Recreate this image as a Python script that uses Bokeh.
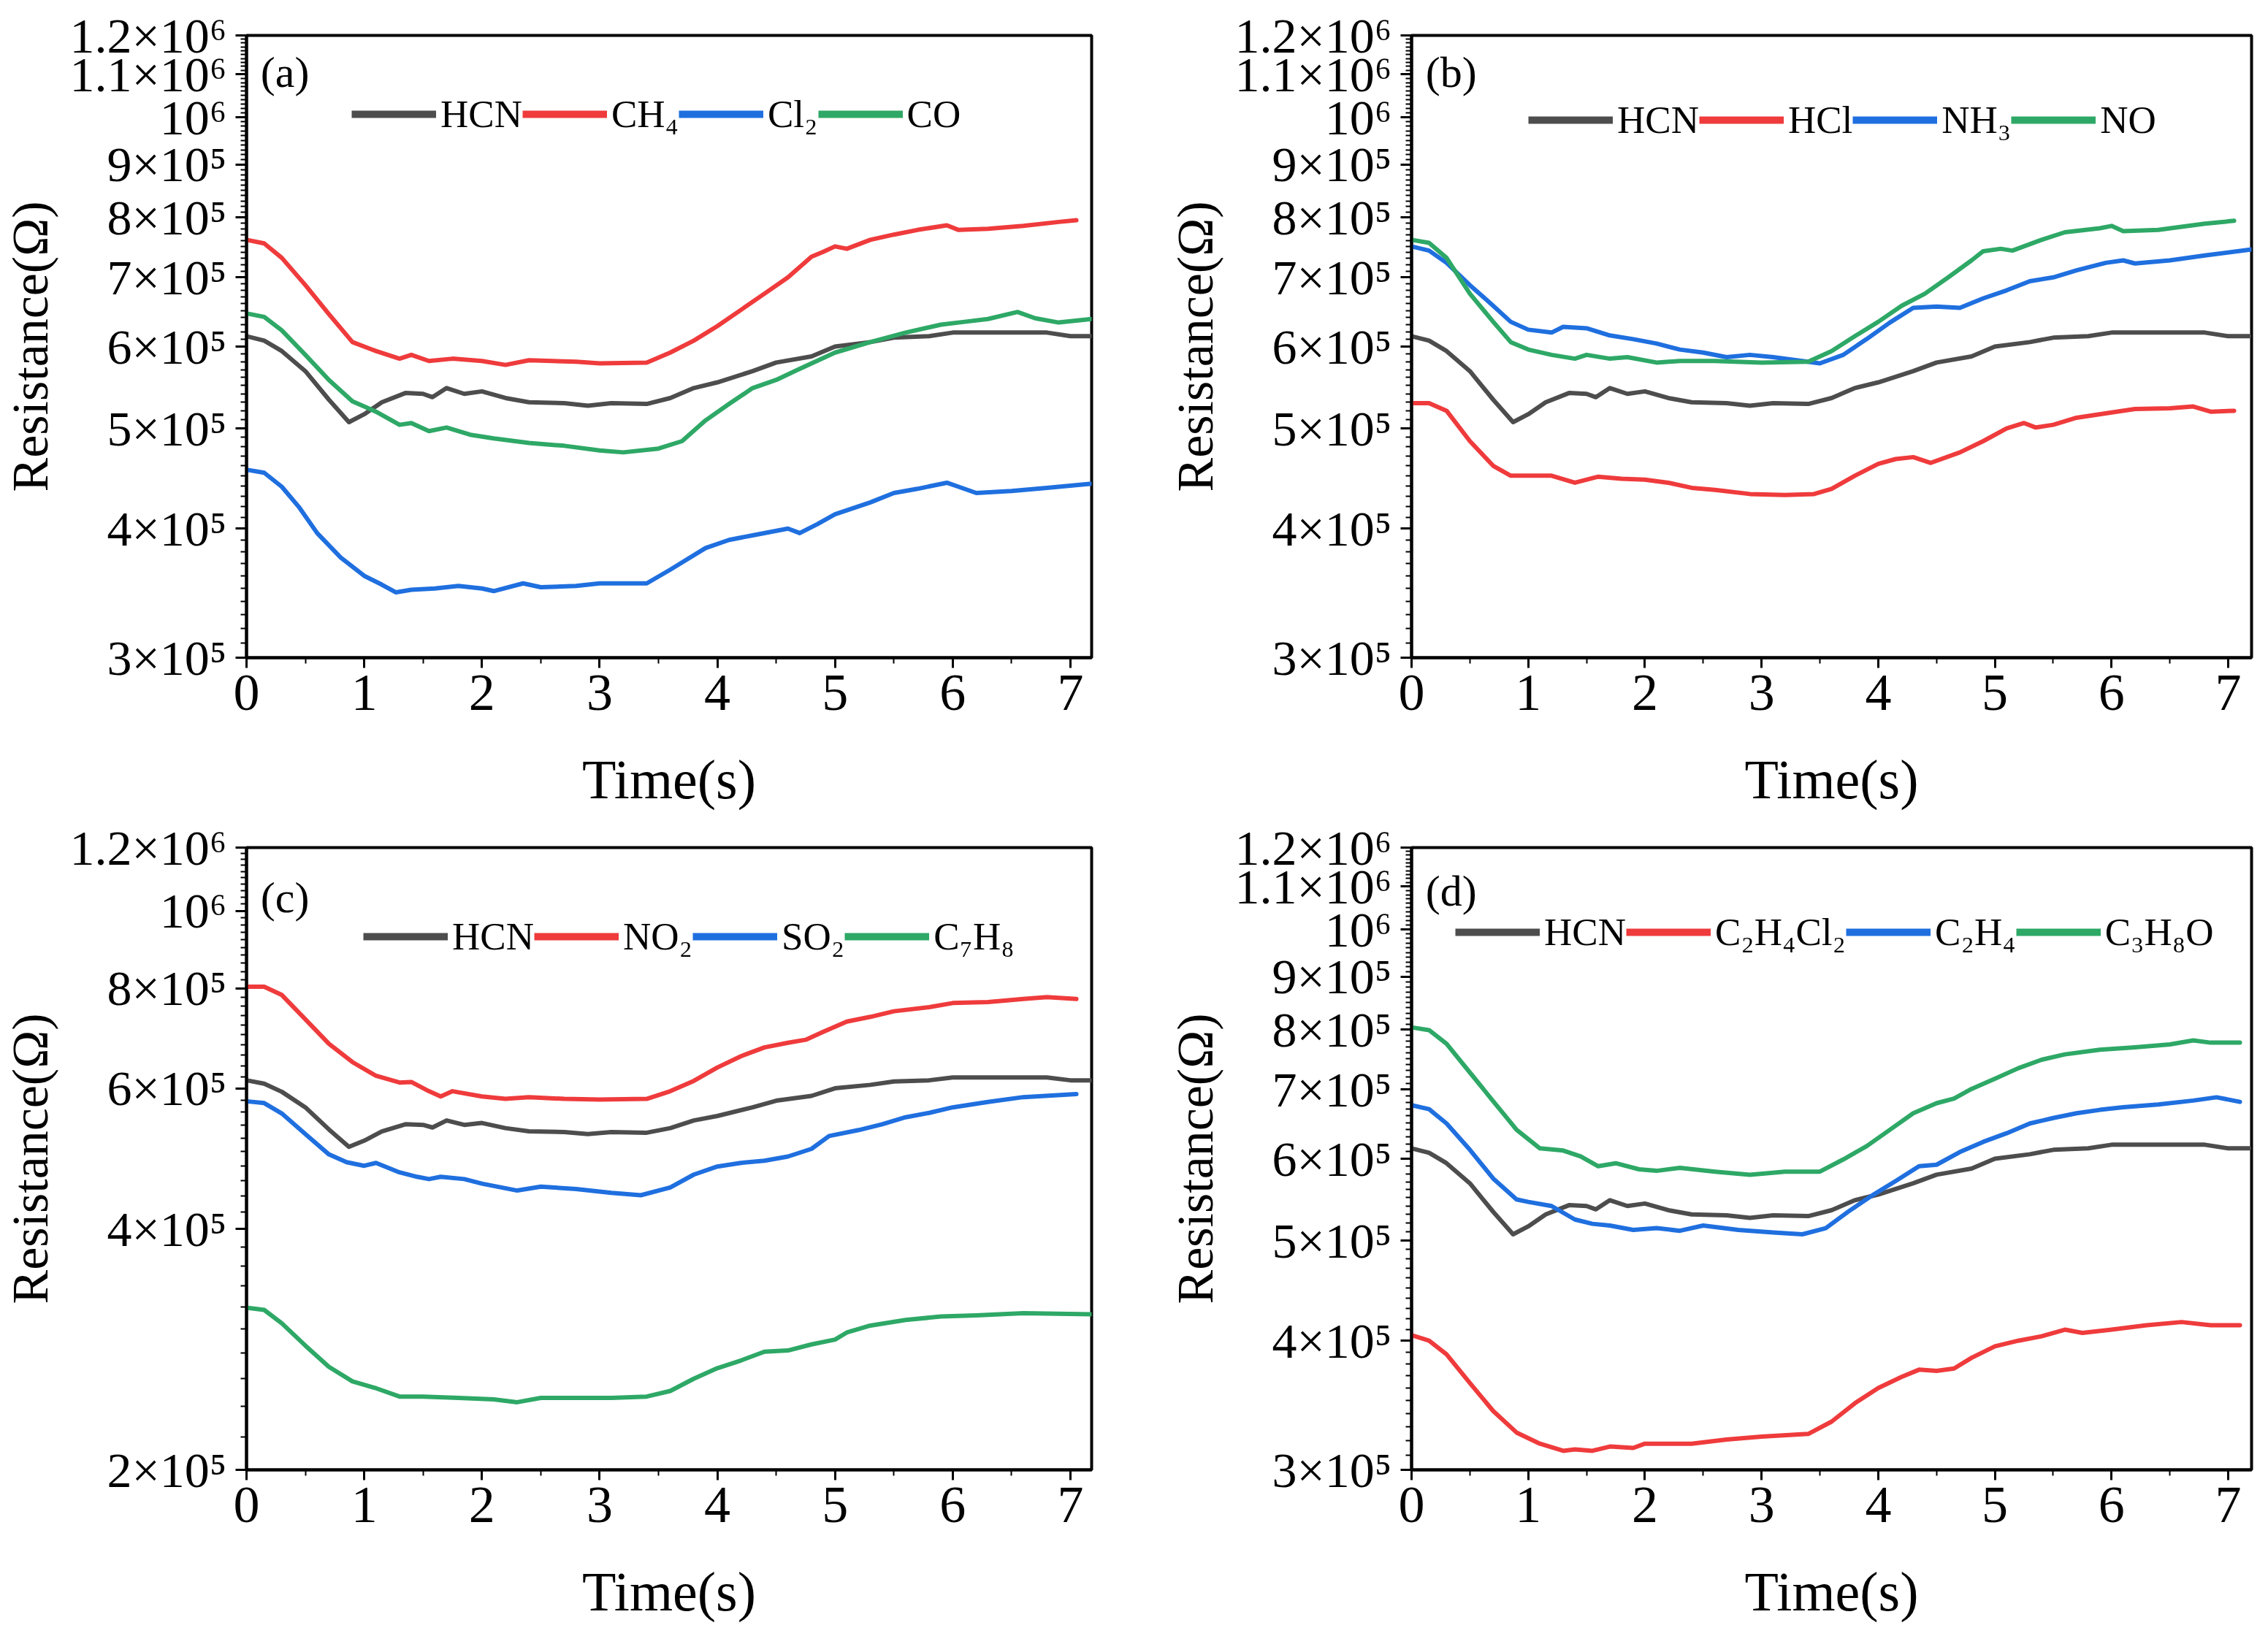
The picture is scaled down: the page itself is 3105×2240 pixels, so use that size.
from bokeh.plotting import figure
from bokeh.models import FixedTicker, Legend, LegendItem, Label, Range1d, ColumnDataSource
from bokeh.layouts import column, row
from bokeh.embed import file_html
from bokeh.resources import INLINE

FONT = "Liberation Serif"
GRAY, RED, BLUE, GREEN = "#4D4D4D", "#EF3B3C", "#1F6FDF", "#2EA866"

# ---------------- data (resistance in units of 1e5 ohm, time in s) ----------------
hcn_t = [0, 0.15, 0.3, 0.5, 0.7, 0.87, 1.0, 1.15, 1.35, 1.5, 1.58, 1.7, 1.85, 2.0, 2.2, 2.4, 2.7, 2.9,
         3.1, 3.4, 3.6, 3.8, 4.0, 4.3, 4.5, 4.8, 5.0, 5.3, 5.5, 5.8, 6.0, 6.5, 6.8, 7.0, 7.18]
hcn_r = [6.14, 6.08, 5.94, 5.68, 5.33, 5.07, 5.16, 5.30, 5.41, 5.40, 5.36, 5.47, 5.40, 5.43, 5.35, 5.30, 5.29, 5.26,
         5.29, 5.28, 5.35, 5.47, 5.54, 5.68, 5.79, 5.87, 6.00, 6.06, 6.12, 6.14, 6.19, 6.19, 6.19, 6.14, 6.14]

# panel (a)
ch4_t = [0, 0.15, 0.3, 0.5, 0.7, 0.9, 1.1, 1.3, 1.4, 1.55, 1.75, 2.0, 2.2, 2.4, 2.8, 3.0, 3.4, 3.6, 3.8, 4.0,
         4.2, 4.4, 4.6, 4.8, 4.9, 5.0, 5.1, 5.3, 5.5, 5.7, 5.95, 6.05, 6.3, 6.6, 6.9, 7.05]
ch4_r = [7.61, 7.55, 7.31, 6.88, 6.45, 6.06, 5.94, 5.84, 5.89, 5.81, 5.84, 5.81, 5.76, 5.82, 5.80, 5.78, 5.79, 5.92, 6.08, 6.28,
         6.51, 6.75, 7.00, 7.33, 7.41, 7.50, 7.46, 7.61, 7.70, 7.78, 7.86, 7.78, 7.80, 7.85, 7.92, 7.95]
cl2_t = [0, 0.15, 0.3, 0.45, 0.6, 0.8, 1.0, 1.15, 1.27, 1.4, 1.6, 1.8, 2.0, 2.1, 2.35, 2.5, 2.8, 3.0, 3.4, 3.6,
         3.9, 4.1, 4.3, 4.6, 4.7, 4.85, 5.0, 5.3, 5.5, 5.7, 5.95, 6.05, 6.2, 6.5, 6.8, 7.18]
cl2_r = [4.56, 4.53, 4.39, 4.19, 3.96, 3.75, 3.60, 3.53, 3.47, 3.49, 3.50, 3.52, 3.50, 3.48, 3.54, 3.51, 3.52, 3.54, 3.54, 3.65,
         3.83, 3.90, 3.94, 4.00, 3.96, 4.04, 4.13, 4.24, 4.33, 4.37, 4.43, 4.39, 4.33, 4.35, 4.38, 4.42]
co_t = [0, 0.15, 0.3, 0.5, 0.7, 0.9, 1.1, 1.3, 1.4, 1.55, 1.7, 1.9, 2.1, 2.4, 2.7, 3.0, 3.2, 3.5, 3.7, 3.9,
        4.1, 4.3, 4.5, 4.7, 5.0, 5.3, 5.6, 5.9, 6.1, 6.3, 6.55, 6.7, 6.9, 7.18]
co_r = [6.46, 6.41, 6.22, 5.89, 5.57, 5.31, 5.19, 5.04, 5.06, 4.97, 5.01, 4.93, 4.89, 4.84, 4.81, 4.76, 4.74, 4.78, 4.86, 5.09,
        5.28, 5.47, 5.57, 5.71, 5.92, 6.06, 6.19, 6.30, 6.34, 6.38, 6.48, 6.39, 6.33, 6.38]

# panel (b)
hcl_t = [0, 0.15, 0.3, 0.5, 0.7, 0.85, 1.0, 1.2, 1.4, 1.6, 1.8, 2.0, 2.2, 2.4, 2.6, 2.9, 3.2, 3.45, 3.6, 3.8,
         4.0, 4.15, 4.3, 4.45, 4.7, 4.9, 5.1, 5.25, 5.35, 5.5, 5.7, 6.0, 6.2, 6.5, 6.7, 6.85, 7.05]
hcl_r = [5.29, 5.29, 5.20, 4.86, 4.60, 4.50, 4.50, 4.50, 4.43, 4.49, 4.47, 4.46, 4.43, 4.38, 4.36, 4.32, 4.31, 4.32, 4.37, 4.50,
         4.62, 4.67, 4.69, 4.63, 4.74, 4.86, 5.00, 5.06, 5.01, 5.04, 5.12, 5.18, 5.22, 5.23, 5.25, 5.19, 5.20]
nh3_t = [0, 0.15, 0.3, 0.5, 0.7, 0.85, 1.0, 1.2, 1.3, 1.5, 1.7, 1.9, 2.1, 2.3, 2.5, 2.7, 2.9, 3.1, 3.3, 3.5,
         3.7, 3.9, 4.1, 4.3, 4.5, 4.7, 4.9, 5.1, 5.3, 5.5, 5.7, 5.95, 6.1, 6.2, 6.5, 6.8, 7.2]
nh3_r = [7.50, 7.43, 7.23, 6.88, 6.57, 6.34, 6.23, 6.19, 6.27, 6.25, 6.15, 6.10, 6.04, 5.96, 5.92, 5.86, 5.89, 5.86, 5.82, 5.78,
         5.89, 6.10, 6.33, 6.54, 6.56, 6.54, 6.68, 6.80, 6.94, 7.00, 7.11, 7.23, 7.27, 7.22, 7.27, 7.35, 7.45]
no_t = [0, 0.15, 0.3, 0.5, 0.7, 0.85, 1.0, 1.2, 1.4, 1.5, 1.7, 1.85, 2.1, 2.3, 2.6, 3.0, 3.4, 3.6, 3.8, 4.0,
        4.2, 4.4, 4.6, 4.8, 4.9, 5.05, 5.15, 5.4, 5.6, 5.9, 6.0, 6.1, 6.4, 6.8, 7.05]
no_r = [7.61, 7.56, 7.31, 6.75, 6.34, 6.06, 5.96, 5.89, 5.84, 5.89, 5.84, 5.86, 5.79, 5.81, 5.81, 5.79, 5.80, 5.94, 6.14, 6.34,
        6.57, 6.75, 7.00, 7.27, 7.42, 7.46, 7.43, 7.61, 7.74, 7.81, 7.85, 7.76, 7.78, 7.89, 7.94]

# panel (c)
no2_t = [0, 0.15, 0.3, 0.5, 0.7, 0.9, 1.1, 1.3, 1.4, 1.55, 1.65, 1.75, 2.0, 2.2, 2.4, 2.7, 3.0, 3.4, 3.6, 3.8,
         4.0, 4.2, 4.4, 4.6, 4.75, 4.9, 5.1, 5.3, 5.5, 5.8, 6.0, 6.3, 6.6, 6.8, 7.05]
no2_r = [8.04, 8.04, 7.85, 7.32, 6.82, 6.47, 6.22, 6.10, 6.11, 5.95, 5.86, 5.95, 5.86, 5.82, 5.85, 5.82, 5.81, 5.82, 5.95, 6.13,
         6.37, 6.58, 6.75, 6.84, 6.90, 7.06, 7.27, 7.37, 7.49, 7.58, 7.67, 7.69, 7.76, 7.80, 7.76]
so2_t = [0, 0.15, 0.3, 0.5, 0.7, 0.85, 1.0, 1.1, 1.3, 1.45, 1.55, 1.65, 1.85, 2.0, 2.3, 2.5, 2.8, 3.1, 3.35, 3.6,
         3.8, 4.0, 4.2, 4.4, 4.6, 4.8, 4.95, 5.2, 5.4, 5.6, 5.8, 6.0, 6.3, 6.6, 7.05]
so2_r = [5.78, 5.75, 5.58, 5.26, 4.96, 4.85, 4.80, 4.84, 4.71, 4.65, 4.62, 4.65, 4.62, 4.56, 4.47, 4.52, 4.49, 4.44, 4.41, 4.51,
         4.68, 4.79, 4.84, 4.87, 4.93, 5.04, 5.23, 5.32, 5.41, 5.52, 5.59, 5.68, 5.77, 5.85, 5.90]
c7h8_t = [0, 0.15, 0.3, 0.5, 0.7, 0.9, 1.1, 1.3, 1.5, 1.8, 2.1, 2.3, 2.5, 2.8, 3.1, 3.4, 3.6, 3.8, 4.0, 4.2,
          4.4, 4.6, 4.8, 5.0, 5.1, 5.3, 5.6, 5.9, 6.2, 6.6, 7.18]
c7h8_r = [3.19, 3.17, 3.05, 2.86, 2.69, 2.58, 2.53, 2.47, 2.47, 2.46, 2.45, 2.43, 2.46, 2.46, 2.46, 2.47, 2.51, 2.60, 2.68, 2.74,
          2.81, 2.82, 2.87, 2.91, 2.97, 3.03, 3.08, 3.11, 3.12, 3.14, 3.13]

# panel (d)
c2h4cl2_t = [0, 0.15, 0.3, 0.5, 0.7, 0.9, 1.1, 1.3, 1.4, 1.55, 1.7, 1.9, 2.0, 2.4, 2.7, 3.0, 3.4, 3.6, 3.8, 4.0,
             4.2, 4.35, 4.5, 4.65, 4.8, 5.0, 5.2, 5.4, 5.6, 5.75, 6.0, 6.3, 6.6, 6.85, 7.1]
c2h4cl2_r = [4.05, 4.00, 3.88, 3.64, 3.42, 3.26, 3.18, 3.13, 3.14, 3.13, 3.16, 3.15, 3.18, 3.18, 3.21, 3.23, 3.25, 3.34, 3.48, 3.60,
             3.69, 3.75, 3.74, 3.76, 3.85, 3.95, 4.00, 4.04, 4.10, 4.07, 4.10, 4.14, 4.17, 4.14, 4.14]
c2h4_t = [0, 0.15, 0.3, 0.5, 0.7, 0.9, 1.0, 1.2, 1.4, 1.55, 1.7, 1.9, 2.1, 2.3, 2.5, 2.8, 3.1, 3.35, 3.55, 3.75,
          3.95, 4.15, 4.35, 4.5, 4.7, 4.9, 5.1, 5.3, 5.5, 5.7, 5.9, 6.1, 6.4, 6.7, 6.9, 7.1]
c2h4_r = [6.76, 6.70, 6.49, 6.12, 5.74, 5.48, 5.45, 5.40, 5.24, 5.19, 5.17, 5.12, 5.14, 5.11, 5.17, 5.12, 5.09, 5.07, 5.14, 5.34,
          5.53, 5.71, 5.90, 5.92, 6.09, 6.23, 6.35, 6.49, 6.57, 6.64, 6.69, 6.73, 6.77, 6.83, 6.88, 6.81]
c3h8o_t = [0, 0.15, 0.3, 0.5, 0.7, 0.9, 1.1, 1.3, 1.45, 1.6, 1.75, 1.95, 2.1, 2.3, 2.6, 2.9, 3.2, 3.5, 3.7, 3.9,
           4.1, 4.3, 4.5, 4.65, 4.8, 5.0, 5.2, 5.4, 5.6, 5.9, 6.2, 6.5, 6.7, 6.85, 7.1]
c3h8o_r = [8.04, 7.99, 7.75, 7.27, 6.82, 6.40, 6.14, 6.11, 6.03, 5.90, 5.94, 5.86, 5.84, 5.88, 5.83, 5.79, 5.83, 5.83, 5.99, 6.17,
           6.40, 6.64, 6.79, 6.86, 7.01, 7.17, 7.34, 7.48, 7.57, 7.65, 7.69, 7.74, 7.81, 7.77, 7.77]

# tick definitions
ticks_std = [3e5, 4e5, 5e5, 6e5, 7e5, 8e5, 9e5, 1e6, 1.1e6, 1.2e6]
labels_std = ["3×10⁵", "4×10⁵", "5×10⁵", "6×10⁵", "7×10⁵", "8×10⁵", "9×10⁵", "10⁶", "1.1×10⁶", "1.2×10⁶"]
ticks_c = [2e5, 4e5, 6e5, 8e5, 1e6, 1.2e6]
labels_c = ["2×10⁵", "4×10⁵", "6×10⁵", "8×10⁵", "10⁶", "1.2×10⁶"]
x_ticks = [0, 1, 2, 3, 4, 5, 6, 7]
x_minor = [0.5, 1.5, 2.5, 3.5, 4.5, 5.5, 6.5]

SCALE = 1e5


def panel(letter, series, ymin, yticks, ylabels, minor_step, xmax, width, height,
          bl, br, bt, bb, leg_x, leg_center_from_top, letter_y):
    p = figure(width=width, height=height, x_range=Range1d(0, xmax), y_range=Range1d(ymin, 1.2e6),
               y_axis_type="log", output_backend="svg", toolbar_location=None,
               min_border_left=bl, min_border_right=br, min_border_top=bt, min_border_bottom=bb)
    p.background_fill_color = "white"
    p.border_fill_color = "white"
    p.xgrid.visible = False
    p.ygrid.visible = False
    p.outline_line_color = "black"
    p.outline_line_width = 4
    p.outline_line_alpha = 1

    items = []
    for name, t, r, color in series:
        src = ColumnDataSource(dict(t=t, r=[v * SCALE for v in r]))
        p.line("t", "r", source=src, line_color=color, line_width=6, line_cap="round", line_join="round")
        # single-point companion renderer (draws nothing) carrying the thicker legend swatch
        sw_src = ColumnDataSource(dict(t=t[:1], r=[r[0] * SCALE]))
        sw = p.line("t", "r", source=sw_src, line_color=color, line_width=10, line_cap="butt")
        items.append(LegendItem(label=name, renderers=[sw]))

    # axes
    minors = []
    v = ymin
    while v < 1.2e6 - 1:
        v = round(v + minor_step, 0)
        if all(abs(v - m) > 1 for m in yticks) and v < 1.2e6:
            minors.append(v)
    ya = p.yaxis[0]
    ya.ticker = FixedTicker(ticks=yticks, minor_ticks=minors)
    ya.major_label_overrides = {tk: lb for tk, lb in zip(yticks, ylabels)}
    xa = p.xaxis[0]
    xa.ticker = FixedTicker(ticks=x_ticks, minor_ticks=x_minor)
    for ax in (xa, ya):
        ax.axis_line_width = 4
        ax.axis_line_color = "black"
        ax.major_tick_line_width = 3
        ax.minor_tick_line_width = 2
        ax.major_tick_line_color = "black"
        ax.minor_tick_line_color = "black"
        ax.major_tick_in = 0
        ax.minor_tick_in = 0
        ax.major_label_text_font = FONT
        ax.major_label_text_color = "black"
        ax.axis_label_text_font = FONT
        ax.axis_label_text_font_style = "normal"
        ax.axis_label_text_color = "black"
    xa.major_tick_out = 14
    xa.minor_tick_out = 8
    xa.major_label_standoff = 10
    xa.major_label_text_font_size = "72px"
    xa.axis_label = "Time(s)"
    xa.axis_label_text_font_size = "76px"
    xa.axis_label_standoff = 50
    ya.major_tick_out = 15
    ya.minor_tick_out = 8
    ya.major_label_standoff = 12
    ya.major_label_text_font_size = "68px"
    ya.axis_label = "Resistance(Ω)"
    ya.axis_label_text_font_size = "70px"
    ya.axis_label_standoff = 12

    frame_h = height - bt - bb
    leg_h = 60
    leg = Legend(items=items, orientation="horizontal",
                 location=(leg_x, frame_h - leg_center_from_top - leg_h // 2),
                 glyph_width=116, glyph_height=leg_h, label_standoff=6, spacing=0,
                 padding=0, margin=0, border_line_alpha=0, background_fill_alpha=0,
                 label_text_font=FONT, label_text_font_size="53px", label_text_color="black",
                 label_height=leg_h)
    p.add_layout(leg)

    p.add_layout(Label(x=0.12, y=letter_y, text=letter, text_font=FONT, text_font_size="60px",
                       text_baseline="middle", text_color="black"))
    return p


W1, W2, H = 1548, 1540, 1112

pa = panel("(a)", [("HCN", hcn_t, hcn_r, GRAY), ("CH₄", ch4_t, ch4_r, RED),
                   ("Cl₂", cl2_t, cl2_r, BLUE), ("CO", co_t, co_r, GREEN)],
           3e5, ticks_std, labels_std, 1e4, 7.18, W1, H, 332, 54, 48, 212, 144, 108, 1.105e6)
pb = panel("(b)", [("HCN", hcn_t, hcn_r, GRAY), ("HCl", hcl_t, hcl_r, RED),
                   ("NH₃", nh3_t, nh3_r, BLUE), ("NO", no_t, no_r, GREEN)],
           3e5, ticks_std, labels_std, 1e4, 7.2, W2, H, 384, 6, 48, 212, 160, 116, 1.106e6)
pc = panel("(c)", [("HCN", hcn_t, hcn_r, GRAY), ("NO₂", no2_t, no2_r, RED),
                   ("SO₂", so2_t, so2_r, BLUE), ("C₇H₈", c7h8_t, c7h8_r, GREEN)],
           2e5, ticks_c, labels_c, 2e4, 7.18, W1, H, 332, 54, 48, 212, 160, 122, 1.04e6)
pd = panel("(d)", [("HCN", hcn_t, hcn_r, GRAY), ("C₂H₄Cl₂", c2h4cl2_t, c2h4cl2_r, RED),
                   ("C₂H₄", c2h4_t, c2h4_r, BLUE), ("C₃H₈O", c3h8o_t, c3h8o_r, GREEN)],
           3e5, ticks_std, labels_std, 1e4, 7.2, W2, H, 384, 6, 48, 212, 60, 116, 1.09e6)

layout = column(row(pa, pb), row(pc, pd))
open("out.html", "w").write(file_html(layout, INLINE))
